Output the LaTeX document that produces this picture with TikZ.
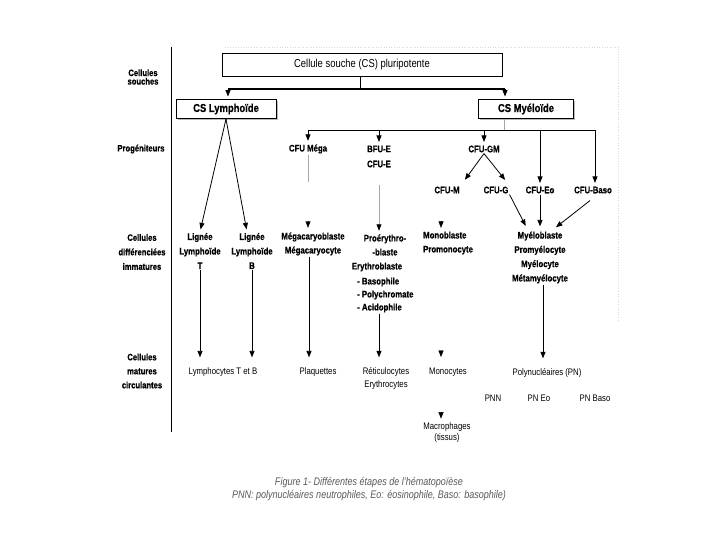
\documentclass[tikz,border=0pt]{standalone}
\usepackage{fontspec}
\setmainfont{Liberation Sans}[FakeStretch=0.82,BoldFeatures={FakeBold=0.6}]
\usetikzlibrary{arrows.meta,shadows}

\newcommand{\taille}{\fontsize{9.5}{14}\selectfont}
\newcommand{\grand}{\fontsize{11.5}{14}\selectfont}

\tikzset{
  etape/.style={font=\taille\bfseries,inner sep=1pt,align=center},
  mature/.style={font=\taille,inner sep=1pt,align=center},
  niveau/.style={font=\fontsize{9.3}{14.5}\selectfont\bfseries,inner sep=1pt,align=center},
  boite/.style={draw,line width=0.9pt,fill=white,inner sep=1pt},
  ombre/.style={drop shadow={shadow xshift=1.6pt,shadow yshift=-1.2pt,fill=gray!55,opacity=1}},
  fleche/.style={-{Triangle[width=5pt,length=6.5pt,black]},shorten >=2.5pt},
  fleche longue/.style={fleche,shorten >=9pt},
  pointe/.style={-{Triangle[width=5pt,length=6.5pt,black]},shorten >=0pt},
  trait/.style={line width=0.8pt},
  trait gris/.style={line width=0.6pt,gray!70},
}

\begin{document}
\begin{tikzpicture}[x=1pt,y=-1pt]
\useasboundingbox (0,0) rectangle (720,540);

%Cadre pointille
\draw[gray!30,dotted,line width=0.6pt] (225,47) -- (618,47) -- (618,320);

%Niveaux
\node[niveau,font=\fontsize{9.3}{8.5}\selectfont\bfseries] (souches) at (143,77) {Cellules\\souches};
\node[niveau] (progen) at (141,149) {Progéniteurs};
\node[niveau] (immat) at (142,252) {Cellules\\différenciées\\immatures};
\node[niveau,font=\fontsize{9.3}{14}\selectfont\bfseries] (circ) at (142,371) {Cellules\\matures\\circulantes};
\draw[trait] (171,47) -- (171,432);

%Cellules souches
\node[boite,font=\grand,minimum width=280pt,minimum height=23pt] (cs) at (362,64.5) {Cellule souche (CS) pluripotente};
\node[boite,ombre,font=\grand\bfseries,minimum width=100pt,minimum height=19pt] (lympho) at (226,109) {CS Lymphoïde};
\node[boite,ombre,font=\grand\bfseries,minimum width=95pt,minimum height=19pt] (myelo) at (526,109) {CS Myéloïde};

\coordinate (jC) at (360,89);
\coordinate (jL) at (228,89);
\coordinate (jM) at (505,89);
\draw[trait] (cs.south -| jC) -- (jC);
\draw[line width=1.8pt] (jL) -- (jM);
\draw[trait,fleche] (jL) -- (jL |- lympho.north);
\draw[trait,fleche] (jM) -- (jM |- myelo.north);

%Progeniteurs
\node[etape] (mega) at (308,149) {CFU Méga};
\node[etape] (bfue) at (379,149) {BFU-E};
\node[etape] (cfue) at (379,164) {CFU-E};
\node[etape] (cfugm) at (484,149) {CFU-GM};
\node[etape] (cfum) at (447,190) {CFU-M};
\node[etape] (cfug) at (496,190) {CFU-G};
\node[etape] (cfueo) at (540,190) {CFU-Eo};
\node[etape] (cfubaso) at (593,190) {CFU-Baso};

\coordinate (bM) at (504,130);
\coordinate (bG) at (308,130);
\coordinate (bD) at (595,130);
\draw[trait gris] (myelo.south -| bM) -- (bM);
\draw[trait] (bG) -- (bD);
\draw[trait,fleche] (bG) -- (mega.north);
\draw[trait,fleche] (bG -| bfue) -- (bfue.north);
\draw[trait,fleche] (bG -| cfugm) -- (cfugm.north);
\draw[trait,fleche] (bG -| cfueo) -- (cfueo.north);
\draw[trait,fleche] (bD) -- (bD |- cfubaso.north);
\draw[trait,fleche,shorten >=7pt] (cfugm.south) -- (cfum.north east);
\draw[trait,fleche,shorten >=7pt] (cfugm.south) -- (cfug.north east);

%Cellules differenciees immatures
\node[etape,font=\fontsize{9.5}{14.5}\selectfont\bfseries] (ligT) at (200,251) {Lignée\\Lymphoïde\\T};
\node[etape,font=\fontsize{9.5}{14.5}\selectfont\bfseries] (ligB) at (252,251) {Lignée\\Lymphoïde\\B};
\node[etape] (megab) at (313,244) {Mégacaryoblaste\\Mégacaryocyte};
\node[etape] (proery) at (385,245) {Proérythro-\\-blaste};
\node[etape] (erythro) at (377,267) {Erythroblaste};
\node[etape,font=\fontsize{9.5}{13}\selectfont\bfseries,align=left,anchor=west] (stades) at (356,295) {- Basophile\\- Polychromate\\- Acidophile};
\node[etape,align=left,anchor=west] (monob) at (422,243) {Monoblaste\\Promonocyte};
\node[etape,font=\fontsize{9.5}{14.3}\selectfont\bfseries] (myelob) at (540,257.5) {Myéloblaste\\Promyélocyte\\Myélocyte\\Métamyélocyte};

\draw[trait,fleche] (lympho.south) -- (ligT.north);
\draw[trait,fleche] (lympho.south) -- ([xshift=-5pt]ligB.north);
\draw[trait gris] (mega.south) -- ++(0,27);
\draw[pointe] ([xshift=-5pt,yshift=10pt]megab.north) -- ([xshift=-5pt,yshift=3.5pt]megab.north);
\draw[trait gris,fleche] ([yshift=-16pt]cfue.south) -- (cfue.south |- proery.north);
\draw[pointe] ([xshift=19pt,yshift=9pt]monob.north west) -- ([xshift=19pt,yshift=2.5pt]monob.north west);
\draw[trait,fleche,shorten >=5pt] (cfug.south east) -- ([xshift=-12pt]myelob.north);
\draw[trait,fleche,shorten >=4pt] (cfueo.south) -- (cfueo.south |- myelob.north);
\draw[trait,fleche,shorten >=5pt] ([xshift=-3pt,yshift=-6pt]cfubaso.south) -- ([xshift=12pt]myelob.north);

%Cellules matures circulantes
\node[mature] (lymphoTB) at (223,372) {Lymphocytes T et B};
\node[mature] (plaq) at (318,372) {Plaquettes};
\node[mature,font=\fontsize{9.5}{13}\selectfont] (reti) at (386,378.5) {Réticulocytes\\Erythrocytes};
\node[mature] (monoc) at (448,372) {Monocytes};
\node[mature,font=\fontsize{9.5}{11.5}\selectfont] (macro) at (447,432.5) {Macrophages\\(tissus)};
\node[mature] (pn) at (547,373) {Polynucléaires (PN)};
\node[mature] (pnn) at (493,398) {PNN};
\node[mature] (pneo) at (539,398) {PN Eo};
\node[mature] (pnbaso) at (595,398) {PN Baso};

\draw[trait,fleche longue] (ligT.south) -- (ligT.south |- lymphoTB.north);
\draw[trait,fleche longue] (ligB.south) -- (ligB.south |- lymphoTB.north);
\draw[trait,fleche longue] ([xshift=-4pt]megab.south) -- ([xshift=-4pt]megab.south |- plaq.north);
\draw[trait,fleche longue] (stades.south -| cfue) -- (cfue |- reti.north);
\draw[pointe] ([xshift=-7pt,yshift=16pt]monoc.north) -- ([xshift=-7pt,yshift=9.5pt]monoc.north);
\draw[pointe] ([xshift=-6pt,yshift=9pt]macro.north) -- ([xshift=-6pt,yshift=2.5pt]macro.north);
\draw[trait,fleche longue] ([xshift=3pt]myelob.south) -- ([xshift=3pt]myelob.south |- pn.north);

%Legende
\node[font=\fontsize{11}{12.5}\selectfont\itshape,text=black!65,align=center] (legende) at (369,489) {Figure 1- Différentes étapes de l'hématopoïèse\\PNN: polynucléaires neutrophiles, Eo: éosinophile, Baso: basophile)};
\end{tikzpicture}
\end{document}
